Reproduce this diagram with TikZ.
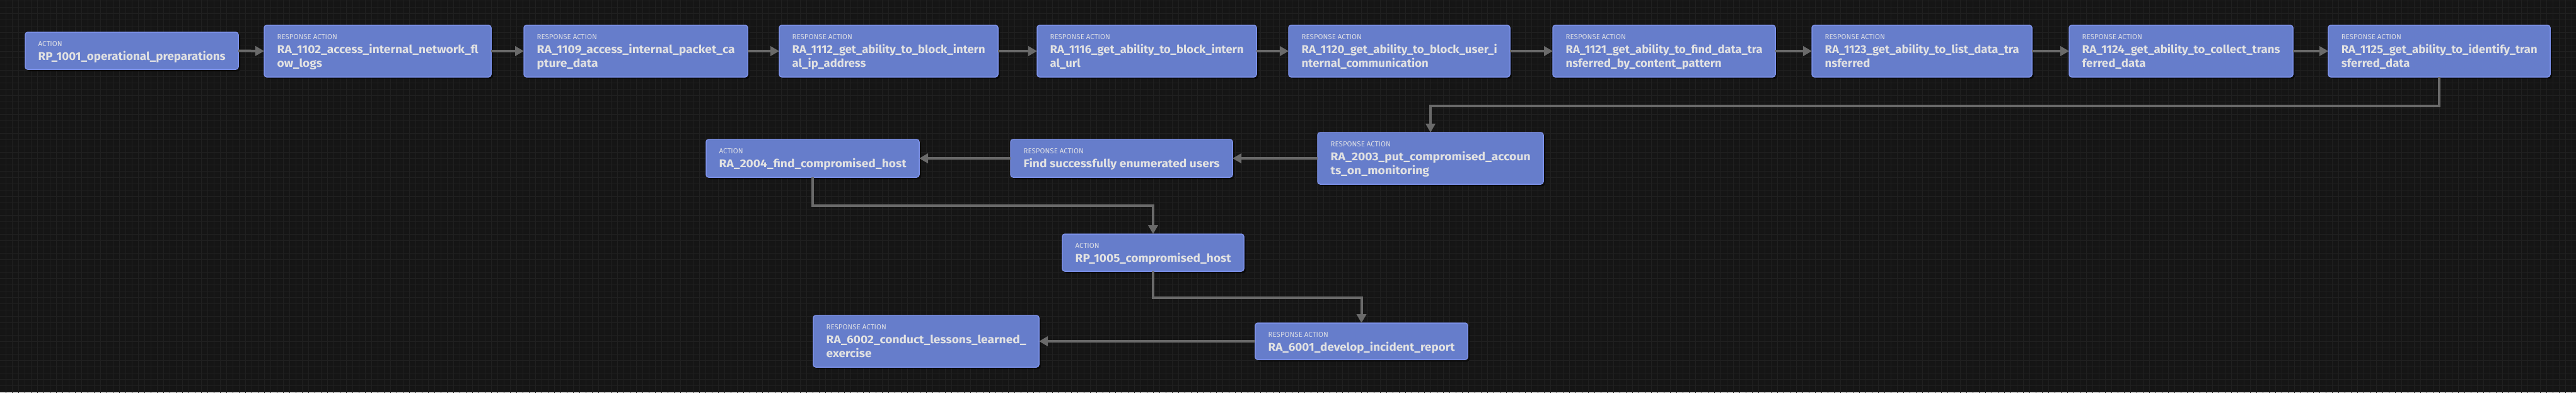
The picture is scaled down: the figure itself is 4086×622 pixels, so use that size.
\documentclass[tikz,border=0pt]{standalone}
\usepackage{fontspec}
\usepackage{graphicx}
\setmainfont{Fira Sans}
\usetikzlibrary{arrows.meta}
\definecolor{bgc}{HTML}{151515}
\definecolor{gridc}{HTML}{202020}
\definecolor{boxfill}{HTML}{667DCB}
\definecolor{boxborder}{HTML}{7D92EA}
\definecolor{txtc}{HTML}{E2E2E2}
\definecolor{labc}{HTML}{DADCE4}
\definecolor{edgec}{HTML}{6A6A6A}
\newcommand\mainfnt{\fontsize{17.8}{21}\selectfont\bfseries}
\newlength\lineonew
\tikzset{
  boxst/.style={rectangle, draw=boxborder, fill=boxfill, line width=1.5pt, rounded corners=4pt, inner sep=0pt, outer sep=0pt},
  labst/.style={text=labc, font=\fontsize{11.5}{13}\selectfont, inner sep=0pt},
  mainst/.style={text=txtc, font=\mainfnt, inner sep=0pt},
  edge/.style={draw=edgec, line width=4pt, -{Triangle[length=14pt,width=15pt]}},
  shadowst/.style={fill=black, opacity=0.55, rounded corners=4pt}
}
\newcommand\flowbox[8]{%
  \fill[shadowst] (#2+3,#3+3) rectangle (#4+3,#5+3);
  \node[boxst, minimum width={#4-#2}, minimum height={#5-#3}] (#1) at ({(#2+#4)/2},{(#3+#5)/2}) {};
  \node[labst, anchor=base west] (#1-l) at (#2+20.5,#3+22.5) {#6};
  \node[mainst, anchor=base west] (#1-a) at (#2+20.5,#3+44.5) {\settowidth\lineonew{#7}\pgfmathsetmacro\sxf{(#4-#2-41)/\lineonew}\global\let\gsxf\sxf\scalebox{\sxf}[1]{#7}};
  \node[mainst, anchor=base west] (#1-b) at (#2+20.5,#3+66.5) {\scalebox{\gsxf}[1]{#8}};
}
\begin{document}
\begin{tikzpicture}[x=1pt,y=-1pt]
\useasboundingbox (0,0) rectangle (4086,622);
\fill[bgc] (0,0) rectangle (4086,622);
\begin{scope}
\clip (0,0) rectangle (4086,622);
\draw[gridc, line width=1pt, xshift=9pt, yshift=-1pt] (-20,-20) grid[step=10pt] (4100,640);
\end{scope}

\flowbox{n1001}{40}{51}{378}{110}{ACTION}{RP\_1001\_operational\_preparations}{}
\flowbox{n1102}{419}{40}{779}{122}{RESPONSE ACTION}{RA\_1102\_access\_internal\_network\_fl}{ow\_logs}
\flowbox{n1109}{831}{40}{1186}{122}{RESPONSE ACTION}{RA\_1109\_access\_internal\_packet\_ca}{pture\_data}
\flowbox{n1112}{1236}{40}{1583}{122}{RESPONSE ACTION}{RA\_1112\_get\_ability\_to\_block\_intern}{al\_ip\_address}
\flowbox{n1116}{1645}{40}{1993}{122}{RESPONSE ACTION}{RA\_1116\_get\_ability\_to\_block\_intern}{al\_url}
\flowbox{n1120}{2044}{40}{2395}{122}{RESPONSE ACTION}{RA\_1120\_get\_ability\_to\_block\_user\_i}{nternal\_communication}
\flowbox{n1121}{2463}{40}{2816}{122}{RESPONSE ACTION}{RA\_1121\_get\_ability\_to\_find\_data\_tra}{nsferred\_by\_content\_pattern}
\flowbox{n1123}{2874}{40}{3223}{122}{RESPONSE ACTION}{RA\_1123\_get\_ability\_to\_list\_data\_tra}{nsferred}
\flowbox{n1124}{3282}{40}{3637}{122}{RESPONSE ACTION}{RA\_1124\_get\_ability\_to\_collect\_trans}{ferred\_data}
\flowbox{n1125}{3693}{40}{4045}{122}{RESPONSE ACTION}{RA\_1125\_get\_ability\_to\_identify\_tran}{sferred\_data}
\flowbox{n2003}{2090}{210}{2448}{292}{RESPONSE ACTION}{RA\_2003\_put\_compromised\_accoun}{ts\_on\_monitoring}
\flowbox{nfind}{1603}{221}{1955}{281}{RESPONSE ACTION}{Find successfully enumerated users}{}
\flowbox{n2004}{1120}{221}{1458}{281}{ACTION}{RA\_2004\_find\_compromised\_host}{}
\flowbox{n1005}{1685}{371}{1973}{430}{ACTION}{RP\_1005\_compromised\_host}{}
\flowbox{n6001}{1991}{512}{2328}{570}{RESPONSE ACTION}{RA\_6001\_develop\_incident\_report}{}
\flowbox{n6002}{1290}{500}{1648}{582}{RESPONSE ACTION}{RA\_6002\_conduct\_lessons\_learned\_}{exercise}

\coordinate (j1) at (3869,168);
\coordinate (j2) at (1289,326);
\coordinate (j3) at (1829,472);

\draw[edge] (n1001.east) -- (n1102.west);
\draw[edge] (n1102.east) -- (n1109.west);
\draw[edge] (n1109.east) -- (n1112.west);
\draw[edge] (n1112.east) -- (n1116.west);
\draw[edge] (n1116.east) -- (n1120.west);
\draw[edge] (n1120.east) -- (n1121.west);
\draw[edge] (n1121.east) -- (n1123.west);
\draw[edge] (n1123.east) -- (n1124.west);
\draw[edge] (n1124.east) -- (n1125.west);
\draw[edge] (n1125.south) -- (n1125.south |- j1) -- (n2003.north |- j1) -- (n2003.north);
\draw[edge] (n2003.west) -- (nfind.east);
\draw[edge] (nfind.west) -- (n2004.east);
\draw[edge] (n2004.south) -- (n2004.south |- j2) -- (n1005.north |- j2) -- (n1005.north);
\draw[edge] (n1005.south) -- (n1005.south |- j3) -- (n6001.north |- j3) -- (n6001.north);
\draw[edge] (n6001.west) -- (n6002.east);
\end{tikzpicture}
\end{document}
